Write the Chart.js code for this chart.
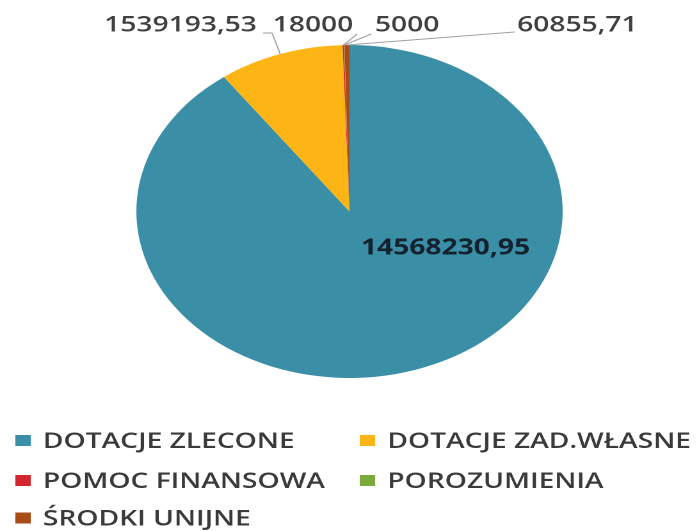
<!DOCTYPE html>
<html>
<head>
<meta charset="utf-8">
<script src="https://cdn.jsdelivr.net/npm/chart.js@4.4.1/dist/chart.umd.min.js"></script>
<style>
  html, body { margin: 0; padding: 0; background: #ffffff; overflow: hidden; }
  #wrap { position: absolute; left: 0; top: 0; width: 546px; height: 531px;
          transform: scaleX(1.2802); transform-origin: 0 0; }
</style>
</head>
<body>
<div id="wrap"><canvas id="c" width="546" height="531"></canvas></div>
<script>
// ---- data ----
const categories = ['DOTACJE ZLECONE', 'DOTACJE ZAD.WŁASNE', 'POMOC FINANSOWA', 'POROZUMIENIA', 'ŚRODKI UNIJNE'];
const values = [14568230.95, 1539193.53, 18000, 5000, 60855.71];
const sliceColors = ['#3a8fa7', '#fdb515', '#d4262f', '#7aab3b', '#a84b14'];

// ---- label / legend layout (unscaled canvas coordinates) ----
const FONT = "'Open Sans', 'Noto Sans', sans-serif";
const labelLayout = [
  { inside: true, dx: 75, dy: 36.5 },
  { x: 141, y: 25, line: [[212.5, 33], [205.5, 33]] },
  { x: 244.5, y: 25, line: [[279, 34]] },
  { x: 318, y: 25, line: [[290, 34]] },
  { x: 451, y: 25, line: [[402, 32]] }
];
const legendCols = [12, 281];
const legendRows = [440.5, 480.5, 518];

function fmt(v) { return String(v).replace('.', ','); }

const valueLabels = {
  id: 'valueLabels',
  afterDatasetsDraw(chart) {
    const ctx = chart.ctx;
    const meta = chart.getDatasetMeta(0);
    ctx.save();
    meta.data.forEach((arc, i) => {
      const p = arc.getProps(['x', 'y', 'startAngle', 'endAngle', 'outerRadius'], true);
      const L = labelLayout[i];
      const txt = fmt(values[i]);
      if (L.inside) {
        ctx.font = 'bold 22px ' + FONT;
        ctx.fillStyle = '#13222e';
        ctx.textAlign = 'center';
        ctx.textBaseline = 'middle';
        ctx.fillText(txt, p.x + L.dx, p.y + L.dy);
        return;
      }
      const mid = (p.startAngle + p.endAngle) / 2;
      const ox = p.x + Math.cos(mid) * p.outerRadius;
      const oy = p.y + Math.sin(mid) * p.outerRadius;
      ctx.strokeStyle = '#a0a0a0';
      ctx.lineWidth = 1;
      ctx.beginPath();
      ctx.moveTo(ox, oy);
      L.line.forEach(pt => ctx.lineTo(pt[0], pt[1]));
      ctx.stroke();
      ctx.font = '600 22px ' + FONT;
      ctx.fillStyle = '#404040';
      ctx.textAlign = 'center';
      ctx.textBaseline = 'middle';
      ctx.fillText(txt, L.x, L.y);
    });
    ctx.restore();
  }
};

const gridLegend = {
  id: 'gridLegend',
  afterDraw(chart) {
    const ctx = chart.ctx;
    const ds = chart.data.datasets[0];
    ctx.save();
    ctx.font = '600 22px ' + FONT;
    ctx.textAlign = 'left';
    ctx.textBaseline = 'middle';
    chart.data.labels.forEach((lab, i) => {
      const col = i % 2, row = Math.floor(i / 2);
      const x = legendCols[col], y = legendRows[row];
      ctx.fillStyle = ds.backgroundColor[i];
      ctx.fillRect(x, y - 5.5, 12, 11);
      ctx.fillStyle = '#3a3a3a';
      ctx.fillText(lab, x + 21.5, y + 1);
    });
    ctx.restore();
  }
};

new Chart(document.getElementById('c'), {
  type: 'pie',
  data: {
    labels: categories,
    datasets: [{
      data: values,
      backgroundColor: sliceColors,
      borderWidth: 0
    }]
  },
  options: {
    responsive: false,
    devicePixelRatio: 2,
    animation: false,
    layout: { padding: { top: 45, bottom: 153, left: 0, right: 0 } },
    plugins: {
      legend: { display: false },
      tooltip: { enabled: false }
    }
  },
  plugins: [valueLabels, gridLegend]
});
</script>
</body>
</html>
